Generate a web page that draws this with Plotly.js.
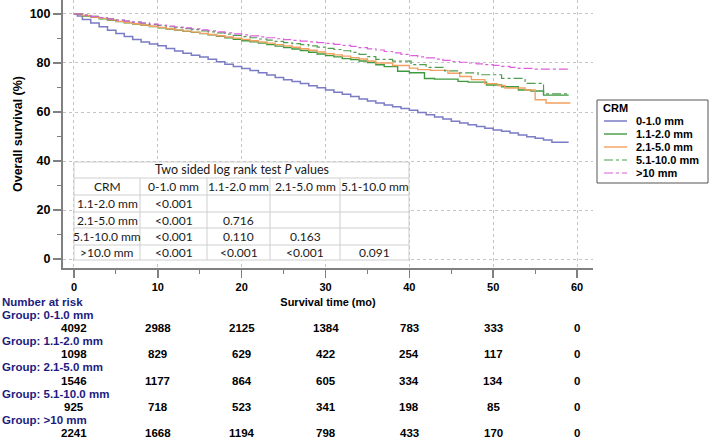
<!DOCTYPE html>
<html>
<head>
<meta charset="utf-8">
<script src="https://cdn.plot.ly/plotly-3.0.1.min.js"></script>
<style>html,body{margin:0;padding:0;background:#fff;}#chart{width:709px;height:440px;}</style>
</head>
<body>
<div id="chart"></div>
<script>
// ---------- DATA ----------
const groupNames = ["0-1.0 mm", "1.1-2.0 mm", "2.1-5.0 mm", "5.1-10.0 mm", ">10 mm"];

const t01 = [0,0.4,1,2,3,4,5,6,7,8,9,10,11,12,13,14,15,16,17,18,19,20,21,22,23,24,25,26,27,28,29,30,31,32,33,34,35,36,37,38,39,40,41,42,43,44,45,46,47,48,49,50,51,52,53,54,55,56,57,59];
const s01 = [100,99.2,97.8,96.3,94.8,93.4,92.0,90.8,89.6,88.6,87.8,87.0,85.9,84.9,84.0,83.2,82.4,81.5,80.5,79.5,78.6,77.8,76.9,76.0,75.1,74.1,73.2,72.4,71.6,70.7,69.9,69.0,68.1,67.2,66.3,65.3,64.5,63.7,62.9,62.1,61.4,60.7,59.8,58.9,58.0,57.1,56.2,55.5,54.8,54.1,53.4,52.7,52.1,51.4,50.6,49.9,49.3,48.6,47.7,47.7];

const t11 = [0,1,2,3,4,5,6,7,8,9,10,11,12,13,14,15,16,17,18,19,20,21,22,23,24,25,26,27,28,29,30,31,32,33,34,35,36,37,38.6,40,41.8,43,45.8,47,49.2,51,53,54.5,56,59];
const s11 = [100,99.2,98.6,98.0,97.4,96.9,96.4,95.9,95.4,94.9,94.4,93.9,93.4,92.9,92.5,92.0,91.5,90.9,90.3,89.7,89.1,88.6,88.1,87.5,86.9,86.3,85.7,85.1,84.4,83.7,83.0,82.5,81.8,81.4,80.8,80.2,79.3,78.5,76.6,76.0,73.7,73.4,72.5,72.2,71.0,70.3,69.0,68.6,66.9,66.9];

const t21 = [0,1,2,3,4,5,6,7,8,9,10,11,12,13,14,15,16,17,18,19,20,21,22,23,24,25,26,27,28,29,30,31,32,33,34,35,36,38,40,41,42.5,44.6,46,47.4,49,50.5,51.4,53.8,55,56.3,59.2];
const s21 = [100,99.4,98.8,98.2,97.6,97.0,96.5,96.0,95.5,95.0,94.5,94.0,93.5,93.0,92.6,92.1,91.6,91.1,90.6,90.1,89.6,89.1,88.6,88.1,87.5,87.0,86.4,85.8,85.2,84.5,83.8,83.3,82.8,82.2,81.6,80.8,80.0,79.0,77.9,77.3,77.0,75.8,74.5,73.2,71.6,70.8,69.8,69.0,65.0,63.7,63.7];

const t51 = [0,1,2,3,4,5,6,7,8,9,10,11,12,13,14,15,16,17,18,19,20,21,22,23,24,25,26,27,28,29,30,31,32,33,34,35,36,38,40.2,42,44.2,46,48.2,51,53.8,56,59];
const s51 = [100,99.5,99.0,98.5,98.0,97.5,97.1,96.7,96.3,95.8,95.3,94.8,94.4,94.0,93.6,93.1,92.7,92.3,91.8,91.3,90.8,90.3,89.8,89.3,88.8,88.3,87.9,87.5,87.0,86.5,86.0,85.5,85.0,84.3,83.5,82.6,81.5,80.8,79.3,78.2,76.8,76.0,75.2,73.7,71.7,67.4,67.4];

const t10 = [0,1,2,3,4,5,6,7,8,9,10,11,12,13,14,15,16,17,18,19,20,21,22,23,24,25,26,27,28,29,30,31,32,33,34,35,36,37,38,39,40,41,42,43,44,45,46,47,48,49,50,51,52,53,55,59];
const s10 = [100,99.5,99.0,98.5,98.0,97.5,97.1,96.7,96.3,95.9,95.5,95.1,94.7,94.3,93.9,93.5,93.1,92.7,92.3,91.9,91.5,91.1,90.7,90.3,89.9,89.5,89.2,88.9,88.6,88.3,88.0,87.6,87.2,86.8,86.3,85.8,85.3,84.7,84.1,83.5,83.0,82.5,82.1,81.6,81.1,80.6,80.3,80.0,79.6,79.3,79.0,78.6,78.2,77.8,77.5,77.4];

// p-value table
const tableTitle = "Two sided log rank test <i>P</i> values";
const tableHeader = ["CRM", "0-1.0 mm", "1.1-2.0 mm", "2.1-5.0 mm", "5.1-10.0 mm"];
const tableRowLabels = ["1.1-2.0 mm", "2.1-5.0 mm", "5.1-10.0 mm", ">10.0 mm"];
const pValues = [
  ["<0.001", "", "", ""],
  ["<0.001", "0.716", "", ""],
  ["<0.001", "0.110", "0.163", ""],
  ["<0.001", "<0.001", "<0.001", "0.091"]
];

// number at risk
const riskTimes = [0, 10, 20, 30, 40, 50, 60];
const riskLabels = ["Group: 0-1.0 mm", "Group: 1.1-2.0 mm", "Group: 2.1-5.0 mm", "Group: 5.1-10.0 mm", "Group: >10 mm"];
const risk01 = [4092, 2988, 2125, 1384, 783, 333, 0];
const risk11 = [1098, 829, 629, 422, 254, 117, 0];
const risk21 = [1546, 1177, 864, 605, 334, 134, 0];
const risk51 = [925, 718, 523, 341, 198, 85, 0];
const risk10 = [2241, 1668, 1194, 798, 433, 170, 0];

// ---------- STYLE / LAYOUT ----------
const W = 709, H = 440;
const L = 63, R = 593, T = 0, B = 268;
const px = X => (X - L) / (R - L);
const py = Y => (B - Y) / (B - T);

const colors = ["#7b7bc6", "#3f9a3f", "#f4a060", "#4f9e4f", "#de5ede"];
const dashes = ["solid", "solid", "solid", "dashdot", "dashdot"];
const widths = [1.5, 1.4, 1.4, 1.2, 1.2];
const series = [[t01, s01], [t11, s11], [t21, s21], [t51, s51], [t10, s10]];

const traces = series.map((d, i) => ({
  type: "scatter", mode: "lines", x: d[0], y: d[1], name: groupNames[i],
  line: {shape: "hv", color: colors[i], width: widths[i], dash: dashes[i]},
  showlegend: false, hoverinfo: "skip"
}));

const boldFont = {family: "Liberation Sans, Arial, sans-serif", size: 11, color: "#000", weight: "bold"};
const bigBold = Object.assign({}, boldFont, {size: 12.5});
const riskFont = Object.assign({}, boldFont, {size: 11.5});
const tblFont = {family: "Lato, Carlito, sans-serif", size: 12, color: "#1a1a1a"};
const tblTitleFont = Object.assign({}, tblFont, {size: 12.5});

const shapes = [];
const annotations = [];

// table geometry (pixels)
const colEdges = [74, 140, 207, 270, 340, 409];
const rowEdges = [162, 178, 195, 212, 228, 245, 260];
const cellLine = {color: "#cfcfcf", width: 1};
shapes.push({type: "rect", xref: "paper", yref: "paper", layer: "above",
  x0: px(colEdges[0]), x1: px(colEdges[5]), y0: py(rowEdges[0]), y1: py(rowEdges[6]),
  fillcolor: "#ffffff", line: cellLine});
for (let r = 1; r < rowEdges.length - 1; r++) {
  shapes.push({type: "line", xref: "paper", yref: "paper", layer: "above",
    x0: px(colEdges[0]), x1: px(colEdges[5]), y0: py(rowEdges[r]), y1: py(rowEdges[r]), line: cellLine});
}
for (let c = 1; c < colEdges.length - 1; c++) {
  shapes.push({type: "line", xref: "paper", yref: "paper", layer: "above",
    x0: px(colEdges[c]), x1: px(colEdges[c]), y0: py(rowEdges[1]), y1: py(rowEdges[6]), line: cellLine});
}
const cx = c => px((colEdges[c] + colEdges[c + 1]) / 2);
const cy = r => py((rowEdges[r] + rowEdges[r + 1]) / 2);
annotations.push({xref: "paper", yref: "paper", x: px((colEdges[0] + colEdges[5]) / 2), y: cy(0),
  text: tableTitle, showarrow: false, font: tblTitleFont, xanchor: "center", yanchor: "middle"});
tableHeader.forEach((h, c) => annotations.push({xref: "paper", yref: "paper", x: cx(c), y: cy(1),
  text: h, showarrow: false, font: tblFont, xanchor: "center", yanchor: "middle"}));
tableRowLabels.forEach((lab, r) => {
  annotations.push({xref: "paper", yref: "paper", x: cx(0), y: cy(r + 2), text: lab.replace(">", "&gt;"),
    showarrow: false, font: tblFont, xanchor: "center", yanchor: "middle"});
  pValues[r].forEach((v, c) => { if (v) annotations.push({xref: "paper", yref: "paper", x: cx(c + 1), y: cy(r + 2),
    text: v.replace("<", "&lt;"), showarrow: false, font: tblFont, xanchor: "center", yanchor: "middle"}); });
});

// legend box
shapes.push({type: "rect", xref: "paper", yref: "paper", layer: "above",
  x0: px(597), x1: px(708), y0: py(100), y1: py(183), fillcolor: "#fff", line: {color: "#555", width: 1}});
annotations.push({xref: "paper", yref: "paper", x: px(601), y: py(108), text: "CRM", showarrow: false,
  font: boldFont, xanchor: "left", yanchor: "middle"});
const legY = [121, 134, 147, 160, 173];
groupNames.forEach((g, i) => {
  shapes.push({type: "line", xref: "paper", yref: "paper", layer: "above",
    x0: px(604), x1: px(627), y0: py(legY[i]), y1: py(legY[i]),
    line: {color: colors[i], width: widths[i], dash: dashes[i]}});
  annotations.push({xref: "paper", yref: "paper", x: px(634), y: py(legY[i]), text: g.replace(">", "&gt;"),
    showarrow: false, font: boldFont, xanchor: "left", yanchor: "middle"});
});

// number at risk
const navy = "#1c1c80";
annotations.push({xref: "paper", yref: "paper", x: px(0), y: py(302), text: "Number at risk", showarrow: false,
  font: Object.assign({}, riskFont, {color: navy}), xanchor: "left", yanchor: "middle"});
const riskRows = [risk01, risk11, risk21, risk51, risk10];
riskRows.forEach((row, i) => {
  const yLab = 315 + i * 26.2, yNum = yLab + 13.1;
  annotations.push({xref: "paper", yref: "paper", x: px(0), y: py(yLab), text: riskLabels[i].replace(">", "&gt;"),
    showarrow: false, font: Object.assign({}, riskFont, {color: navy}), xanchor: "left", yanchor: "middle"});
  row.forEach((v, k) => annotations.push({xref: "x", yref: "paper", x: riskTimes[k], y: py(yNum), text: String(v),
    showarrow: false, font: riskFont, xanchor: "center", yanchor: "middle"}));
});

const axisCommon = {
  showgrid: true, gridcolor: "#c4c4c4", griddash: "dot", gridwidth: 1,
  showline: true, linecolor: "#808080", linewidth: 2, zeroline: false,
  ticks: "outside", tickcolor: "#808080", tickwidth: 1.5,
  tickfont: boldFont, automargin: false
};

const layout = {
  width: W, height: H,
  margin: {l: L, r: W - R, t: T, b: H - B, pad: 0},
  paper_bgcolor: "#fff", plot_bgcolor: "#fff",
  showlegend: false,
  xaxis: Object.assign({}, axisCommon, {
    range: [-1.31, 61.9], tickmode: "linear", tick0: 0, dtick: 10, ticklen: 8,
    minor: {dtick: 5, tick0: 0, ticklen: 4, tickcolor: "#808080", tickwidth: 1, ticks: "outside", showgrid: false},
    title: {text: "Survival time (mo)", font: boldFont, standoff: 6}
  }),
  yaxis: Object.assign({}, axisCommon, {
    range: [-3.67, 105.71], tickmode: "linear", tick0: 0, dtick: 20, ticklen: 8,
    tickfont: bigBold,
    minor: {dtick: 10, tick0: 0, ticklen: 4, tickcolor: "#808080", tickwidth: 1, ticks: "outside", showgrid: false},
    title: {text: "Overall survival (%)", font: bigBold, standoff: 4}
  }),
  shapes: shapes,
  annotations: annotations
};

Plotly.newPlot("chart", traces, layout, {staticPlot: true, displayModeBar: false});
</script>
</body>
</html>
